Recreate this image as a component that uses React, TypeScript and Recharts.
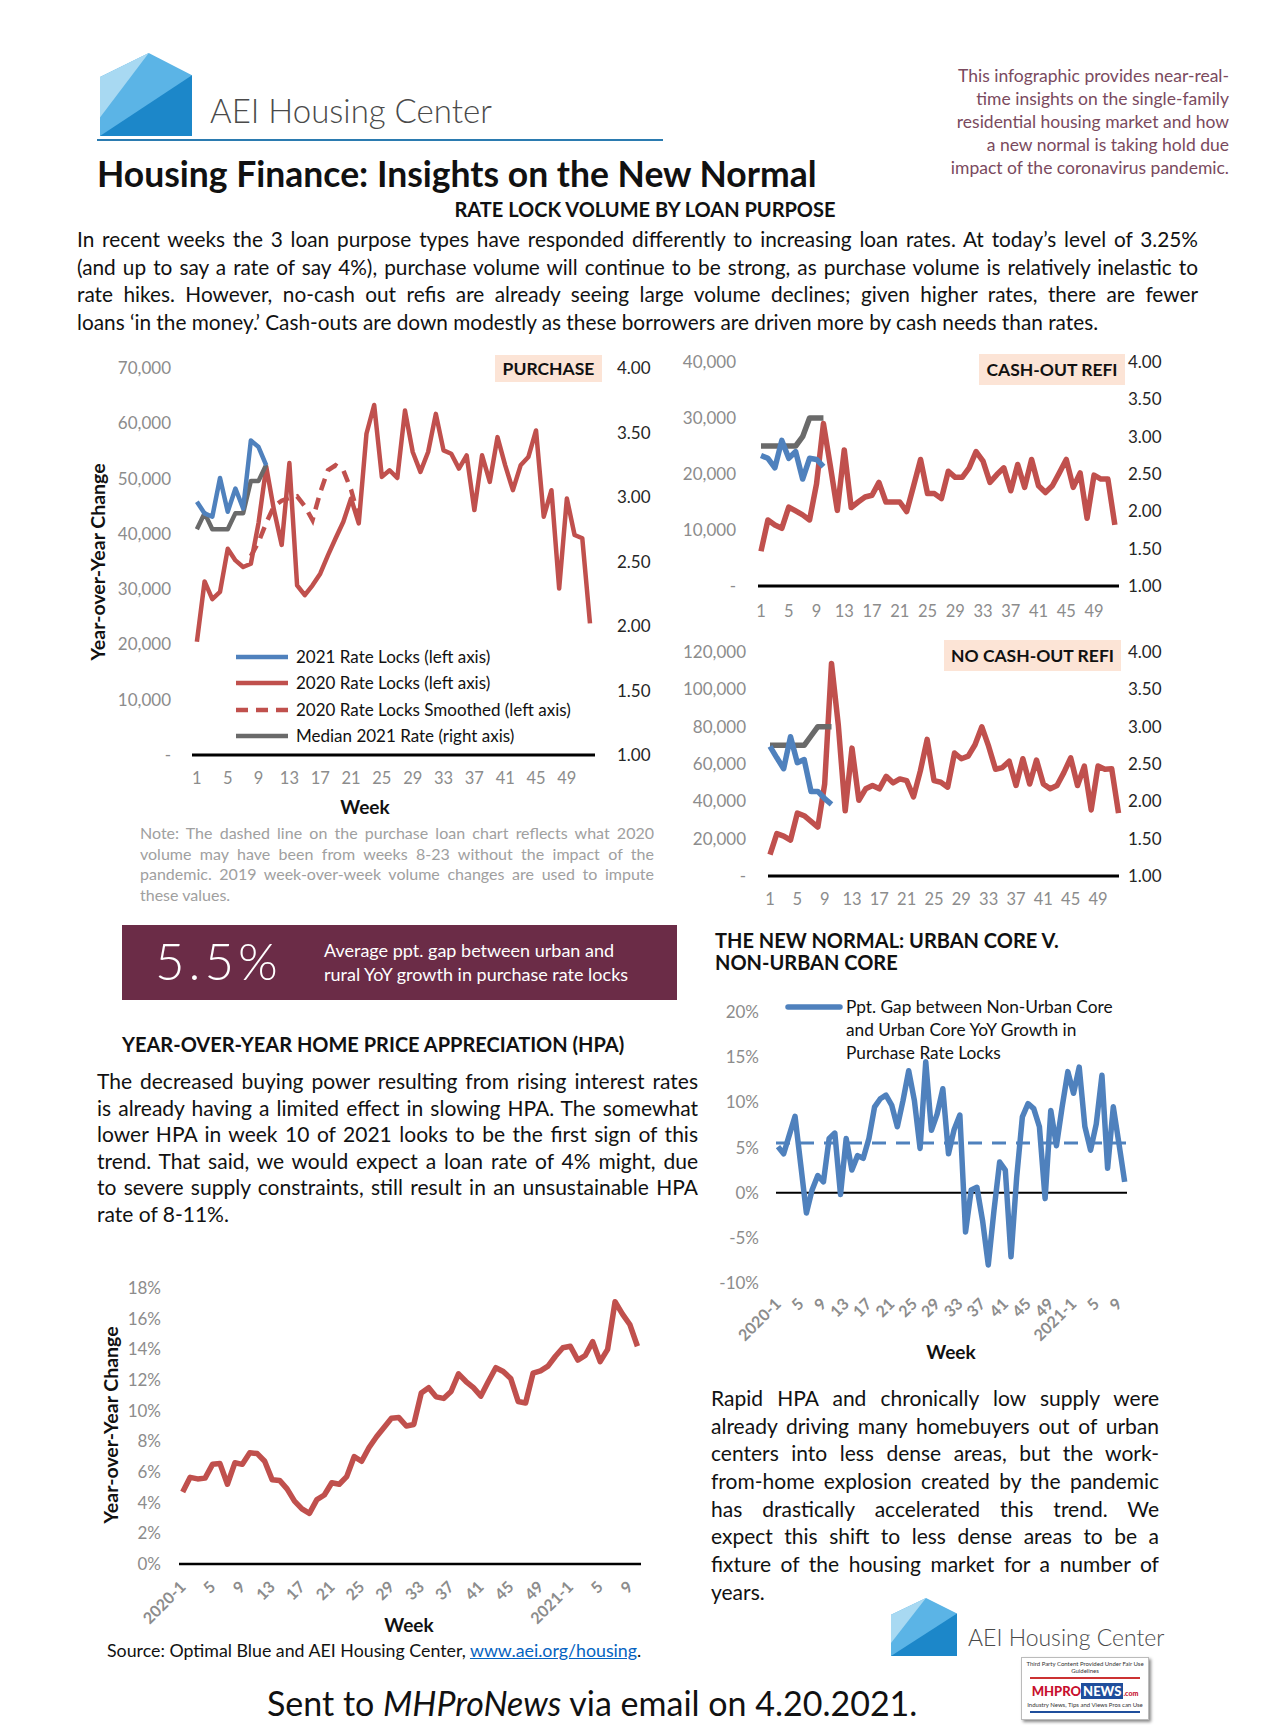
import React from "react";
import { LineChart, Line, XAxis, YAxis, ReferenceLine } from "recharts";

const RED = "#C0504D";
const BLUE = "#4F81BD";
const GRAY = "#6A6A6A";
const TICK = "#8C8C8C";
const FONT = "Lato, 'Open Sans', sans-serif";

// weekly rate lock volume, weeks 1-52 of 2020 and weeks 1-10 of 2021
const purchase2020 = [20500, 31400, 28200, 29500, 37300, 35200, 34000, 34600, 42000, 52100, 44300, 38000, 52800, 30700, 28900, 30700, 32800, 36100, 39200, 42200, 46400, 41900, 58100, 63300, 50300, 51500, 50100, 62300, 54800, 51200, 54800, 61700, 55100, 54500, 51800, 54200, 44300, 54200, 49400, 57500, 52400, 47900, 52400, 53900, 58700, 43100, 47900, 30100, 46400, 39800, 39200, 23800];
const purchase2021 = [45800, 43700, 43100, 50100, 44000, 48200, 44600, 56900, 55700, 52400];
const smoothStartWeek = 8;
const purchaseSmoothed = [36000, 38500, 42000, 45000, 46000, 46500, 46800, 45000, 42500, 47500, 51500, 52400, 51500, 48000, 43000];
const purchaseRate2021 = [2.75, 2.875, 2.75, 2.75, 2.75, 2.875, 2.875, 3.125, 3.125, 3.25];

const cashOut2020 = [6200, 11800, 10900, 10300, 14100, 13400, 12700, 11800, 18200, 29000, 21400, 13500, 24300, 14000, 15000, 15900, 16200, 18500, 15000, 15000, 15000, 13300, 17900, 22600, 16500, 16500, 15600, 20500, 19400, 19400, 21100, 24000, 22300, 18500, 19900, 21100, 17000, 21700, 17600, 22600, 17900, 16700, 17900, 20200, 22600, 17600, 20200, 12100, 19800, 19100, 19100, 10900];
const cashOut2021 = [23300, 22800, 21100, 26000, 22800, 24000, 19100, 22800, 22600, 21300];
const cashOutRate2021 = [2.875, 2.875, 2.875, 2.875, 2.875, 2.875, 3.0, 3.25, 3.25, 3.25];

const noCash2020 = [11500, 22700, 21400, 19200, 33700, 32300, 29300, 26200, 49300, 113900, 80700, 34900, 68500, 40600, 46700, 48500, 46700, 53400, 49900, 52000, 51100, 42400, 56300, 73200, 51100, 50200, 47600, 65900, 62800, 64200, 70300, 79900, 69400, 57200, 58100, 61500, 48500, 62800, 49300, 62100, 49300, 46700, 48500, 55400, 63300, 48500, 58900, 35400, 58900, 57200, 57500, 33700];
const noCash2021 = [69400, 63300, 57500, 74600, 60700, 62400, 45300, 45300, 41500, 38400];
const noCashRate2021 = [2.75, 2.75, 2.75, 2.75, 2.75, 2.75, 2.875, 3.0, 3.0, 3.0];

const weekTicks = [1, 5, 9, 13, 17, 21, 25, 29, 33, 37, 41, 45, 49];
const rateTicks = [1, 1.5, 2, 2.5, 3, 3.5, 4];

// 2020-1 ... 2021-10 (62 weeks)
const urbanGap = [5.1, 4.3, 6.4, 8.45, 3.1, -2.25, 0.3, 1.9, 1.2, 6.0, 6.6, -0.2, 6.0, 2.5, 4.1, 3.8, 6.0, 9.5, 10.4, 10.8, 9.7, 7.3, 10.2, 13.5, 10.2, 4.9, 14.5, 6.9, 8.7, 11.5, 4.3, 7.0, 8.6, -4.35, 0.3, 0.6, -3.1, -8.0, -2.0, 3.4, 2.5, -7.1, 1.7, 8.4, 9.85, 9.3, 7.3, -0.66, 9.1, 5.2, 9.5, 13.4, 11.0, 13.9, 7.3, 4.7, 7.6, 13.0, 2.7, 9.5, 5.4, 1.2];
const urbanGapAverage = 5.5;
const hpa = [4.7, 5.65, 5.55, 5.6, 6.5, 6.55, 5.2, 6.6, 6.5, 7.25, 7.2, 6.7, 5.5, 5.45, 4.9, 4.1, 3.6, 3.3, 4.2, 4.5, 5.3, 5.2, 5.7, 7.0, 6.7, 7.6, 8.3, 8.9, 9.5, 9.55, 9.0, 9.1, 11.15, 11.5, 10.9, 10.8, 11.25, 12.4, 11.9, 11.5, 10.95, 11.9, 12.8, 12.55, 12.1, 10.6, 10.5, 12.45, 12.6, 12.9, 13.55, 14.1, 14.2, 13.3, 13.6, 14.5, 13.2, 14.0, 17.1, 16.3, 15.6, 14.2];
const weeksIn2020 = 52;
const longTicks = [0, 4, 8, 12, 16, 20, 24, 28, 32, 36, 40, 44, 48, 52, 56, 60];

const weekLabel = (i: number) => {
  if (i < weeksIn2020) return i === 0 ? "2020-1" : String(i + 1);
  const w = i - weeksIn2020 + 1;
  return w === 1 ? "2021-1" : String(w);
};

const buildRows = (v2020: number[], v2021: number[], rate: number[], smooth?: number[]) =>
  v2020.map((v, i) => {
    const week = i + 1;
    const s =
      smooth && week >= smoothStartWeek && week < smoothStartWeek + smooth.length
        ? smooth[week - smoothStartWeek]
        : null;
    return {
      week,
      y2020: v,
      y2021: i < v2021.length ? v2021[i] : null,
      smooth: s,
      rate: i < rate.length ? rate[i] : null,
    };
  });

const purchaseRows = buildRows(purchase2020, purchase2021, purchaseRate2021, purchaseSmoothed);
const cashOutRows = buildRows(cashOut2020, cashOut2021, cashOutRate2021);
const noCashRows = buildRows(noCash2020, noCash2021, noCashRate2021);
const urbanRows = urbanGap.map((v, i) => ({ idx: i, gap: v }));
const hpaRows = hpa.map((v, i) => ({ idx: i, hpa: v }));

const volFmt = (v: number) => (v === 0 ? "-" : v.toLocaleString("en-US"));
const pctFmt = (v: number) => `${v}%`;

type Box = { left: number; top: number; width: number; height: number };
const abs = (b: Partial<Box>, extra: React.CSSProperties = {}): React.CSSProperties => ({
  position: "absolute",
  ...b,
  ...extra,
});

interface LockProps {
  box: Box;
  rows: any[];
  marginTop: number;
  leftW: number;
  rightW: number;
  domain: [number, number];
  yMax: number;
  yStep: number;
  leftGap: number;
  rightGap: number;
  xGap: number;
  sw: number;
  smooth?: boolean;
}

const RateLockChart = ({ box, rows, marginTop, leftW, rightW, domain, yMax, yStep, leftGap, rightGap, xGap, sw, smooth }: LockProps) => {
  const yTicks: number[] = [];
  for (let v = 0; v <= yMax; v += yStep) yTicks.push(v);
  return (
    <div style={abs({ left: box.left, top: box.top })}>
      <LineChart width={box.width} height={box.height} data={rows} margin={{ top: marginTop, right: 0, bottom: 0, left: 0 }}>
        <XAxis
          type="number"
          dataKey="week"
          domain={domain}
          ticks={weekTicks}
          height={40}
          tickLine={false}
          tickSize={0}
          tickMargin={xGap}
          axisLine={{ stroke: "#000", strokeWidth: 3 }}
          tick={{ fill: TICK, fontSize: 16.5 }}
        />
        <YAxis
          yAxisId="l"
          domain={[0, yMax]}
          ticks={yTicks}
          width={leftW}
          axisLine={false}
          tickLine={false}
          tickSize={0}
          tickMargin={leftGap}
          tickFormatter={volFmt}
          tick={{ fill: TICK, fontSize: 17 }}
        />
        <YAxis
          yAxisId="r"
          orientation="right"
          domain={[1, 4]}
          ticks={rateTicks}
          width={rightW}
          axisLine={false}
          tickLine={false}
          tickSize={0}
          tickMargin={rightGap}
          tickFormatter={(v: number) => v.toFixed(2)}
          tick={{ fill: "#262626", fontSize: 17, textAnchor: "start" }}
        />
        <Line yAxisId="l" dataKey="y2020" stroke={RED} strokeWidth={sw} dot={false} strokeLinejoin="round" isAnimationActive={false} />
        {smooth && (
          <Line yAxisId="l" dataKey="smooth" stroke={RED} strokeWidth={sw} strokeDasharray="12 8" dot={false} isAnimationActive={false} />
        )}
        <Line yAxisId="r" dataKey="rate" stroke={GRAY} strokeWidth={sw} dot={false} strokeLinejoin="round" isAnimationActive={false} />
        <Line yAxisId="l" dataKey="y2021" stroke={BLUE} strokeWidth={sw} dot={false} strokeLinejoin="round" isAnimationActive={false} />
      </LineChart>
    </div>
  );
};

const RotTick = (props: any) => {
  const { x, y, payload, dy } = props;
  return (
    <g transform={`translate(${x + 4},${y + dy})`}>
      <text transform="rotate(-45)" textAnchor="end" fill={TICK} fontSize={16} fontWeight={700} fontFamily={FONT}>
        {weekLabel(payload.value)}
      </text>
    </g>
  );
};

const House = ({ left, top, w, h }: { left: number; top: number; w: number; h: number }) => (
  <svg style={abs({ left, top })} width={w} height={h} viewBox="0 0 100 90" preserveAspectRatio="none">
    <polygon points="0,26 53,0 100,24 100,90 0,90" fill="#5BB4E6" />
    <polygon points="0,26 53,0 0,70" fill="#A8D9F2" />
    <polygon points="0,90 100,24 100,90" fill="#1C87C9" />
  </svg>
);

const Justified = ({ lines, left, top, width, lh, size, color = "#111", lastLeft = true }: any) => (
  <div style={abs({ left, top, width }, { fontSize: size, lineHeight: `${lh}px`, color })}>
    {lines.map((l: string, i: number) => (
      <div
        key={i}
        style={{
          height: lh,
          whiteSpace: "nowrap",
          textAlign: "justify",
          textAlignLast: i === lines.length - 1 && lastLeft ? "left" : "justify",
        }}
      >
        {l}
      </div>
    ))}
  </div>
);

const LabelBox = ({ text, left, top, width, height }: any) => (
  <div
    style={abs(
      { left, top, width, height },
      { background: "#FCE4D6", fontWeight: 700, fontSize: 17.5, display: "flex", alignItems: "center", justifyContent: "center", color: "#111" }
    )}
  >
    {text}
  </div>
);

const Centered = ({ x, y, children, style }: any) => (
  <div style={abs({ left: x, top: y }, { transform: "translate(-50%, -50%)", whiteSpace: "nowrap", ...style })}>{children}</div>
);

const LegendRow = ({ y, color, dashed, text }: any) => (
  <>
    <svg style={abs({ left: 234, top: y - 4 })} width={56} height={8}>
      <line x1={2} y1={4} x2={54} y2={4} stroke={color} strokeWidth={4.5} strokeDasharray={dashed ? "12 8" : undefined} />
    </svg>
    <div style={abs({ left: 296, top: y - 11 }, { fontSize: 17, lineHeight: "22px", color: "#111", whiteSpace: "nowrap" })}>{text}</div>
  </>
);

export default function App() {
  return (
    <div style={abs({ left: 0, top: 0, width: 1275, height: 1725 }, { background: "#fff", fontFamily: FONT, overflow: "hidden" })}>
      {/* header */}
      <House left={100} top={53} w={92} h={83} />
      <div style={abs({ left: 210, top: 89 }, { fontSize: 33, fontWeight: 300, color: "#4a4a4a", lineHeight: "42px", whiteSpace: "nowrap" })}>
        AEI Housing Center
      </div>
      <div style={abs({ left: 97, top: 139, width: 566, height: 2 }, { background: "#2B7BB0" })} />
      <div style={abs({ left: 880, top: 64, width: 349 }, { textAlign: "right", fontSize: 17.5, lineHeight: "23px", color: "#7A4A5E", whiteSpace: "nowrap" })}>
        <div>This infographic provides near-real-</div>
        <div>time insights on the single-family</div>
        <div>residential housing market and how</div>
        <div>a new normal is taking hold due</div>
        <div>impact of the coronavirus pandemic.</div>
      </div>
      <div style={abs({ left: 97, top: 151 }, { fontSize: 35.5, fontWeight: 700, lineHeight: "46px", whiteSpace: "nowrap", color: "#111" })}>
        Housing Finance: Insights on the New Normal
      </div>
      <Centered x={645} y={209} style={{ fontSize: 20, fontWeight: 700, color: "#111" }}>
        RATE LOCK VOLUME BY LOAN PURPOSE
      </Centered>
      <Justified
        left={77}
        top={225}
        width={1121}
        lh={27.7}
        size={20.8}
        lines={[
          "In recent weeks the 3 loan purpose types have responded differently to increasing loan rates. At today\u2019s level of 3.25%",
          "(and up to say a rate of say 4%), purchase volume will continue to be strong, as purchase volume is relatively inelastic to",
          "rate hikes. However, no-cash out refis are already seeing large volume declines; given higher rates, there are fewer",
          "loans \u2018in the money.\u2019 Cash-outs are down modestly as these borrowers are driven more by cash needs than rates.",
        ]}
      />

      {/* purchase */}
      <RateLockChart
        box={{ left: 80, top: 340, width: 600, height: 455 }}
        rows={purchaseRows}
        marginTop={28}
        leftW={112}
        rightW={85}
        domain={[0.365, 52.65]}
        yMax={70000}
        yStep={10000}
        leftGap={21}
        rightGap={22}
        xGap={17}
        sw={4.5}
        smooth
      />
      <LabelBox text="PURCHASE" left={495} top={355} width={107} height={27} />
      <Centered x={97} y={562} style={{ transform: "translate(-50%, -50%) rotate(-90deg)", fontSize: 19.5, fontWeight: 700, color: "#111" }}>
        Year-over-Year Change
      </Centered>
      <Centered x={365} y={806} style={{ fontSize: 19, fontWeight: 700, color: "#111" }}>
        Week
      </Centered>
      <LegendRow y={657} color={BLUE} text="2021 Rate Locks (left axis)" />
      <LegendRow y={683} color={RED} text="2020 Rate Locks (left axis)" />
      <LegendRow y={710} color={RED} dashed text="2020 Rate Locks Smoothed (left axis)" />
      <LegendRow y={736} color={GRAY} text="Median 2021  Rate (right axis)" />
      <Justified
        left={140}
        top={823}
        width={514}
        lh={20.5}
        size={16}
        color="#A0A0A0"
        lines={[
          "Note: The dashed line on the purchase loan chart reflects what 2020",
          "volume may have been from weeks 8-23 without the impact of the",
          "pandemic. 2019 week-over-week volume changes are used to impute",
          "these values.",
        ]}
      />

      {/* cash-out refi */}
      <RateLockChart
        box={{ left: 671, top: 340, width: 514, height: 286 }}
        rows={cashOutRows}
        marginTop={22}
        leftW={87}
        rightW={66}
        domain={[0.568, 52.6]}
        yMax={40000}
        yStep={10000}
        leftGap={22}
        rightGap={9}
        xGap={19}
        sw={5.5}
      />
      <LabelBox text="CASH-OUT REFI" left={979} top={354} width={146} height={31} />

      {/* no cash-out refi */}
      <RateLockChart
        box={{ left: 671, top: 630, width: 514, height: 286 }}
        rows={noCashRows}
        marginTop={22}
        leftW={97}
        rightW={66}
        domain={[0.707, 52.07]}
        yMax={120000}
        yStep={20000}
        leftGap={22}
        rightGap={9}
        xGap={17}
        sw={5.5}
      />
      <LabelBox text="NO CASH-OUT REFI" left={944} top={640} width={177} height={31} />

      {/* 5.5% box */}
      <div style={abs({ left: 122, top: 925, width: 555, height: 75 }, { background: "#6B2C47" })} />
      <div style={abs({ left: 155, top: 931 }, { fontSize: 51, fontWeight: 300, color: "#fff", letterSpacing: 4, lineHeight: "60px" })}>5.5%</div>
      <div style={abs({ left: 324, top: 938 }, { fontSize: 18, lineHeight: "24px", color: "#fff", whiteSpace: "nowrap" })}>
        <div>Average ppt. gap between urban and</div>
        <div>rural YoY growth in purchase rate locks</div>
      </div>

      {/* urban core */}
      <div style={abs({ left: 715, top: 929 }, { fontSize: 20, fontWeight: 700, lineHeight: "22px", color: "#111", whiteSpace: "nowrap" })}>
        <div>THE NEW NORMAL: URBAN CORE V.</div>
        <div>NON-URBAN CORE</div>
      </div>
      <div style={abs({ left: 690, top: 995 })}>
        <LineChart width={470} height={364} data={urbanRows} margin={{ top: 17, right: 33, bottom: 0, left: 0 }} style={{ overflow: "visible" }}>
          <XAxis
            type="number"
            dataKey="idx"
            domain={[-0.35, 61.41]}
            ticks={longTicks}
            height={76}
            axisLine={false}
            tickLine={false}
            tickSize={0}
            tick={<RotTick dy={20} />}
            interval={0}
          />
          <YAxis
            domain={[-10, 20]}
            ticks={[-10, -5, 0, 5, 10, 15, 20]}
            width={86}
            axisLine={false}
            tickLine={false}
            tickSize={0}
            tickMargin={17}
            tickFormatter={pctFmt}
            tick={{ fill: TICK, fontSize: 17 }}
          />
          <ReferenceLine y={0} stroke="#000" strokeWidth={2} />
          <ReferenceLine y={urbanGapAverage} stroke={BLUE} strokeWidth={3} strokeDasharray="14 10" />
          <Line dataKey="gap" stroke={BLUE} strokeWidth={5.5} dot={false} strokeLinejoin="round" isAnimationActive={false} />
        </LineChart>
      </div>
      <svg style={abs({ left: 785, top: 1003 })} width={58} height={8}>
        <line x1={3} y1={4} x2={55} y2={4} stroke={BLUE} strokeWidth={5.5} strokeLinecap="round" />
      </svg>
      <div style={abs({ left: 846, top: 995 }, { fontSize: 17.3, lineHeight: "23px", color: "#111", whiteSpace: "nowrap" })}>
        <div>Ppt. Gap between Non-Urban Core</div>
        <div>and Urban Core YoY Growth in</div>
        <div>Purchase Rate Locks</div>
      </div>
      <Centered x={951} y={1351} style={{ fontSize: 19, fontWeight: 700, color: "#111" }}>
        Week
      </Centered>

      {/* HPA */}
      <div style={abs({ left: 122, top: 1032 }, { fontSize: 20, fontWeight: 700, lineHeight: "24px", color: "#111", whiteSpace: "nowrap" })}>
        YEAR-OVER-YEAR HOME PRICE APPRECIATION (HPA)
      </div>
      <Justified
        left={97}
        top={1068}
        width={601}
        lh={26.6}
        size={21}
        lines={[
          "The decreased buying power resulting from rising interest rates",
          "is already having a limited effect in slowing HPA. The somewhat",
          "lower HPA in week 10 of 2021 looks to be the first sign of this",
          "trend.  That said, we would expect a loan rate of 4% might, due",
          "to severe supply constraints, still result in an unsustainable HPA",
          "rate of 8-11%.",
        ]}
      />
      <div style={abs({ left: 80, top: 1270 })}>
        <LineChart width={580} height={370} data={hpaRows} margin={{ top: 18, right: 19, bottom: 0, left: 0 }} style={{ overflow: "visible" }}>
          <XAxis
            type="number"
            dataKey="idx"
            domain={[-0.496, 61.48]}
            ticks={longTicks}
            height={76}
            tickLine={false}
            tickSize={0}
            axisLine={{ stroke: "#000", strokeWidth: 2.5 }}
            tick={<RotTick dy={22} />}
            interval={0}
          />
          <YAxis
            domain={[0, 18]}
            ticks={[0, 2, 4, 6, 8, 10, 12, 14, 16, 18]}
            width={99}
            axisLine={false}
            tickLine={false}
            tickSize={0}
            tickMargin={18}
            tickFormatter={pctFmt}
            tick={{ fill: TICK, fontSize: 17 }}
          />
          <Line dataKey="hpa" stroke={RED} strokeWidth={5.5} dot={false} strokeLinejoin="round" isAnimationActive={false} />
        </LineChart>
      </div>
      <Centered x={110} y={1425} style={{ transform: "translate(-50%, -50%) rotate(-90deg)", fontSize: 19.5, fontWeight: 700, color: "#111" }}>
        Year-over-Year Change
      </Centered>
      <Centered x={409} y={1624} style={{ fontSize: 19, fontWeight: 700, color: "#111" }}>
        Week
      </Centered>

      {/* right text */}
      <Justified
        left={711}
        top={1384}
        width={448}
        lh={27.7}
        size={21}
        lines={[
          "Rapid HPA and chronically low supply were",
          "already driving many homebuyers out of urban",
          "centers into less dense areas, but the work-",
          "from-home explosion created by the pandemic",
          "has drastically accelerated this trend. We",
          "expect this shift to less dense areas to be a",
          "fixture of the housing market for a number of",
          "years.",
        ]}
      />
      <House left={891} top={1598} w={66} h={58} />
      <div style={abs({ left: 968, top: 1622 }, { fontSize: 23, fontWeight: 300, color: "#4a4a4a", lineHeight: "30px", whiteSpace: "nowrap" })}>
        AEI Housing Center
      </div>
      <div
        style={abs(
          { left: 1021, top: 1657, width: 126, height: 61 },
          { border: "1px solid #bbb", boxShadow: "2px 2px 3px #888", background: "#fff", fontSize: 6, color: "#333", textAlign: "center" }
        )}
      >
        <div style={{ marginTop: 2 }}>Third Party Content Provided Under Fair Use Guidelines</div>
        <div style={{ height: 2, background: "#c33", margin: "3px 8px" }} />
        <div style={{ fontSize: 13, fontWeight: 900, marginTop: 4 }}>
          <span style={{ color: "#c8102e" }}>MHPRO</span>
          <span style={{ color: "#fff", background: "#1f4e9c", padding: "0 2px" }}>NEWS</span>
          <span style={{ fontSize: 7, color: "#c8102e" }}>.com</span>
        </div>
        <div style={{ marginTop: 2 }}>Industry News, Tips and Views Pros can Use</div>
        <div style={{ height: 2, background: "#1f4e9c", margin: "3px 8px" }} />
      </div>

      {/* footer */}
      <div style={abs({ left: 107, top: 1639 }, { fontSize: 17.8, lineHeight: "22px", color: "#111", whiteSpace: "nowrap" })}>
        Source: Optimal Blue and AEI Housing Center, <span style={{ color: "#0563C1", textDecoration: "underline" }}>www.aei.org/housing</span>.
      </div>
      <div style={abs({ left: 267, top: 1682 }, { fontSize: 34, lineHeight: "42px", color: "#111", whiteSpace: "nowrap" })}>
        Sent to <i>MHProNews</i> via email on 4.20.2021.
      </div>
    </div>
  );
}
